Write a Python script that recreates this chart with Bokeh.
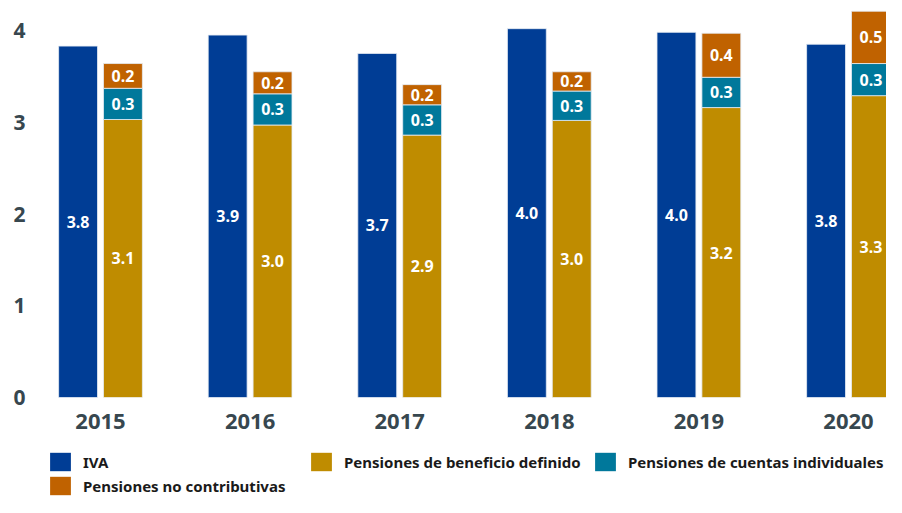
import numpy as np
from bokeh.plotting import figure
from bokeh.layouts import column
from bokeh.models import (ColumnDataSource, Legend, LegendItem, FixedTicker,
                          Range1d)
from bokeh.core.properties import value
from bokeh.embed import file_html
from bokeh.resources import INLINE

years = ["2015", "2016", "2017", "2018", "2019", "2020"]
iva = [3.83, 3.95, 3.75, 4.02, 3.98, 3.85]
beneficio = [3.03, 2.97, 2.86, 3.02, 3.16, 3.29]
cuentas = [0.34, 0.34, 0.33, 0.32, 0.33, 0.35]
no_contrib = [0.27, 0.24, 0.22, 0.21, 0.48, 0.57]
iva_labels = ["3.8", "3.9", "3.7", "4.0", "4.0", "3.8"]
beneficio_labels = ["3.1", "3.0", "2.9", "3.0", "3.2", "3.3"]
cuentas_labels = ["0.3", "0.3", "0.3", "0.3", "0.3", "0.3"]
no_contrib_labels = ["0.2", "0.2", "0.2", "0.2", "0.4", "0.5"]
series_names = ["IVA", "Pensiones de beneficio definido",
                "Pensiones de cuentas individuales", "Pensiones no contributivas"]
colors = ["#003d95", "#bf8c00", "#00789b", "#c06200"]

FONT = "Noto Sans"
xi = np.arange(len(years))
off = 0.15
bw = 0.26

bd = np.array(beneficio)
ci = np.array(cuentas)
nc = np.array(no_contrib)

src_iva = ColumnDataSource(dict(x=xi - off, bottom=np.zeros(6), top=iva,
                                ymid=np.array(iva) / 2, lab=iva_labels))
src_bd = ColumnDataSource(dict(x=xi + off, bottom=np.zeros(6), top=bd,
                               ymid=bd / 2, lab=beneficio_labels))
src_ci = ColumnDataSource(dict(x=xi + off, bottom=bd, top=bd + ci,
                               ymid=bd + ci / 2, lab=cuentas_labels))
src_nc = ColumnDataSource(dict(x=xi + off, bottom=bd + ci, top=bd + ci + nc,
                               ymid=bd + ci + nc / 2, lab=no_contrib_labels))

p = figure(width=886, height=449, output_backend="svg", toolbar_location=None,
           x_range=Range1d(-0.4345, 5.254), y_range=Range1d(0, 4.327),
           min_border_left=35, min_border_right=0, min_border_top=0,
           min_border_bottom=52)
p.outline_line_color = None
p.grid.grid_line_color = None
p.background_fill_color = "white"

for src, col in zip([src_iva, src_bd, src_ci, src_nc], colors):
    p.vbar(x="x", bottom="bottom", top="top", width=bw, source=src,
           fill_color=col, line_color="#e6ecf4", line_width=1, line_alpha=0.8)
    p.text(x="x", y="ymid", text="lab", source=src, text_color="white",
           text_font=value(FONT), text_font_style="bold", text_font_size="16px",
           text_align="center", text_baseline="middle")

# axes
p.xaxis.ticker = FixedTicker(ticks=list(range(len(years))))
p.xaxis.major_label_overrides = {i: y for i, y in enumerate(years)}
p.yaxis.ticker = FixedTicker(ticks=[0, 1, 2, 3, 4])
for ax in [p.xaxis[0], p.yaxis[0]]:
    ax.axis_line_color = None
    ax.major_tick_line_color = None
    ax.minor_tick_line_color = None
    ax.major_tick_out = 0
    ax.major_tick_in = 0
    ax.major_label_text_font = FONT
    ax.major_label_text_font_style = "bold"
    ax.major_label_text_color = "#37474f"
p.xaxis.major_label_text_font_size = "22px"
p.yaxis.major_label_text_font_size = "21px"
p.xaxis.major_label_standoff = 16
p.yaxis.major_label_standoff = 10

# legend figure below the chart (its frame is aligned with the chart frame)
lf = figure(width=886, height=48, output_backend="svg", toolbar_location=None,
            x_range=Range1d(0, 1), y_range=Range1d(0, 1),
            x_axis_location=None, y_axis_location=None,
            min_border_left=35, min_border_right=0, min_border_top=0,
            min_border_bottom=0)
lf.outline_line_color = None
lf.grid.grid_line_color = None
dummy = []
for col in colors:
    # legend swatches only: the bar itself lies far outside the visible range
    r = lf.vbar(x=[50], bottom=[50], top=[60], width=0.1, fill_color=col,
                line_color="#e6ecf4", line_width=1, line_alpha=0.0)
    dummy.append(r)

legend_cols = [([0, 3], 12, 0), ([1], 273, 24), ([2], 557, 24)]
for idxs, xpos, ypos in legend_cols:
    items = [LegendItem(label=series_names[i], renderers=[dummy[i]]) for i in idxs]
    lg = Legend(items=items, orientation="vertical", location=(xpos, ypos),
                glyph_width=26, glyph_height=23, label_standoff=10, spacing=1,
                padding=0, margin=0, border_line_color=None,
                background_fill_alpha=0, label_text_font=FONT,
                label_text_font_style="bold", label_text_font_size="15px",
                label_text_color="#1a1a1a", label_height=23)
    lf.add_layout(lg, "center")

layout = column(p, lf, spacing=0)
open("out.html", "w").write(file_html(layout, INLINE))
